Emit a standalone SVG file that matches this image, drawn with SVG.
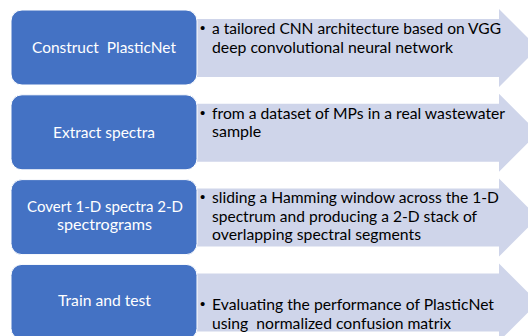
<svg xmlns="http://www.w3.org/2000/svg" width="528" height="336" viewBox="0 0 528 336">
<style>
.box{fill:#4472C4;stroke:#ffffff;stroke-width:1}
.arr{fill:#CFD5EA}
.lbl{font-family:Lato,"Open Sans","Liberation Sans",sans-serif;font-size:16px;fill:#ffffff;text-anchor:middle}
.txt{font-family:Lato,"Open Sans","Liberation Sans",sans-serif;font-size:16px;fill:#000000}
.bul{font-family:"Liberation Sans",sans-serif;font-size:15px;fill:#000000}
</style>
<rect width="528" height="336" fill="#ffffff"/>
<g id="connectors">
<path class="arr" d="M190,19 H499 V9 L538,48 L499,87 V77 H190 Z"/>
<path class="arr" d="M190,103.8 H499 V93.8 L538,132.8 L499,171.8 V161.8 H190 Z"/>
<path class="arr" d="M190,188.6 H499 V178.6 L538,217.6 L499,256.6 V246.6 H190 Z"/>
<path class="arr" d="M190,273.4 H499 V263.4 L538,302.4 L499,341.4 V331.4 H190 Z"/>
</g>
<g id="n1">
<rect class="box" x="11" y="10" width="186" height="75" rx="11"/>
<text class="lbl" x="104" y="53" xml:space="preserve" textLength="144" lengthAdjust="spacingAndGlyphs">Construct  PlasticNet</text>
<text class="bul" x="200" y="33">•</text>
<text class="txt" x="212" y="34" textLength="289" lengthAdjust="spacingAndGlyphs">a tailored CNN architecture based on VGG</text>
<text class="txt" x="212" y="52.5" textLength="241" lengthAdjust="spacingAndGlyphs">deep convolutional neural network</text>
</g>
<g id="n2">
<rect class="box" x="11" y="94.8" width="186" height="75" rx="11"/>
<text class="lbl" x="104" y="137.5" textLength="102" lengthAdjust="spacingAndGlyphs">Extract spectra</text>
<text class="bul" x="200" y="117.5">•</text>
<text class="txt" x="212" y="118.5" textLength="293" lengthAdjust="spacingAndGlyphs">from a dataset of MPs in a real wastewater</text>
<text class="txt" x="212" y="137">sample</text>
</g>
<g id="n3">
<rect class="box" x="11" y="179.6" width="186" height="75" rx="11"/>
<text class="lbl" x="105" y="212" textLength="156" lengthAdjust="spacingAndGlyphs">Covert 1-D spectra 2-D</text>
<text class="lbl" x="104.5" y="230" textLength="95" lengthAdjust="spacingAndGlyphs">spectrograms</text>
<text class="bul" x="200" y="202">•</text>
<text class="txt" x="212" y="203" textLength="287" lengthAdjust="spacingAndGlyphs">sliding a Hamming window across the 1-D</text>
<text class="txt" x="212" y="221.5" textLength="265" lengthAdjust="spacingAndGlyphs">spectrum and producing a 2-D stack of</text>
<text class="txt" x="212" y="240" textLength="209" lengthAdjust="spacingAndGlyphs">overlapping spectral segments</text>
</g>
<g id="n4">
<rect class="box" x="11" y="264.4" width="186" height="75" rx="11"/>
<text class="lbl" x="104.5" y="306" textLength="93" lengthAdjust="spacingAndGlyphs">Train and test</text>
<text class="bul" x="200" y="309">•</text>
<text class="txt" x="212" y="310" textLength="282" lengthAdjust="spacingAndGlyphs">Evaluating the performance of PlasticNet</text>
<text class="txt" x="212" y="328.5" xml:space="preserve" textLength="239" lengthAdjust="spacingAndGlyphs">using  normalized confusion matrix</text>
</g>
</svg>
